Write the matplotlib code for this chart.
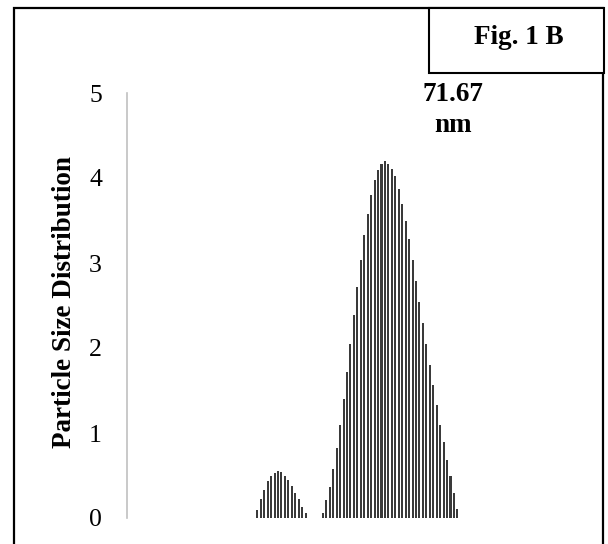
import matplotlib
matplotlib.use("Agg")
import matplotlib.pyplot as plt
from matplotlib.patches import Rectangle
import numpy as np

plt.rcParams['font.family'] = ['Liberation Serif', 'DejaVu Serif']

# particle size distribution (small peak, empty bins, main peak)
small_peak = [0.10, 0.22, 0.33, 0.43, 0.49, 0.53, 0.55, 0.54, 0.50, 0.45,
              0.38, 0.30, 0.22, 0.13, 0.06]
gap_bins = [0, 0, 0, 0]
main_peak = [0.06, 0.21, 0.37, 0.58, 0.82, 1.09, 1.40, 1.72, 2.05, 2.39,
             2.72, 3.04, 3.33, 3.58, 3.80, 3.98, 4.10, 4.17, 4.20, 4.17,
             4.11, 4.02, 3.87, 3.70, 3.50, 3.28, 3.04, 2.79, 2.54, 2.29,
             2.05, 1.80, 1.56, 1.33, 1.09, 0.89, 0.68, 0.49, 0.30, 0.11]
y_ticks = [0, 1, 2, 3, 4, 5]
peak_label = '71.67\nnm'
fig_label = 'Fig. 1 B'
y_title = 'Particle Size Distribution'

values = np.array(small_peak + gap_bins + main_peak)
bins = np.arange(len(values))

W, H = 608, 544
fig = plt.figure(figsize=(W / 100, H / 100), dpi=100)

def px(x0, y0, x1, y1):
    # pixel box (top-left origin) -> figure fraction rect
    return [x0 / W, 1 - y1 / H, (x1 - x0) / W, (y1 - y0) / H]

ax = fig.add_axes(px(127, 93, 590, 518))
ax.bar(bins, values, width=0.6, color='#3a3a3a', linewidth=0)

step = 3.45
ax.set_xlim(-(257.3 - 127) / step, (590 - 257.3) / step)
ax.set_ylim(0, 5)
ax.set_yticks(y_ticks)
ax.set_xticks([])
ax.tick_params(axis='y', length=0, pad=18, labelsize=18.5)

for s in ['top', 'right', 'bottom']:
    ax.spines[s].set_visible(False)
ax.spines['left'].set_color('#c0c0c0')
ax.spines['left'].set_linewidth(1.2)

# peak annotation (sits right of the peak, as in the source chart)
ax.annotate(peak_label, xy=(453, 544 - 110), xycoords='figure pixels',
            ha='center', va='center', fontsize=19.5, fontweight='bold',
            linespacing=1.3)

fig.text(65 / W, 1 - 302 / H, y_title, rotation=90, ha='center', va='center',
         fontsize=19.5, fontweight='bold')

# outer frame and figure tag box
fig.patches.append(Rectangle((13.5 / W, 1 - 548 / H), 589 / W, 540 / H,
                             transform=fig.transFigure, fill=False,
                             edgecolor='black', linewidth=1.6))
fig.patches.append(Rectangle((429 / W, 1 - 73 / H), 175 / W, 65 / H,
                             transform=fig.transFigure, facecolor='white',
                             edgecolor='black', linewidth=1.5))
fig.text(519 / W, 1 - 37 / H, fig_label, ha='center', va='center',
         fontsize=19.5, fontweight='bold')

fig.savefig('out.png', dpi=100)
